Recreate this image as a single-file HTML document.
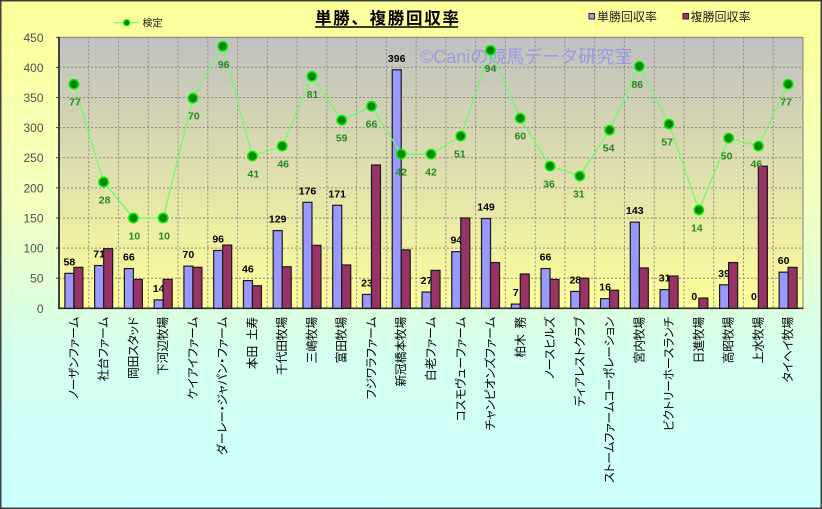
<!DOCTYPE html>
<html><head><meta charset="utf-8"><style>
html,body{margin:0;padding:0;}
body{width:822px;height:509px;overflow:hidden;}
svg{display:block;font-family:"Liberation Sans","Noto Sans CJK JP",sans-serif;}
.xl{font-size:11.8px;fill:#000;font-feature-settings:"palt";letter-spacing:-0.2px;}
.yl{font-size:12px;fill:#505050;}
.bl{font-size:10.5px;font-weight:bold;fill:#000;}
.gl{font-size:10.5px;font-weight:bold;fill:#228b22;}
</style></head><body>
<svg width="822" height="509" viewBox="0 0 822 509" xmlns="http://www.w3.org/2000/svg">
<defs>
<linearGradient id="bg" x1="0" y1="0" x2="0" y2="1">
<stop offset="0" stop-color="#ffff99"/>
<stop offset="0.4" stop-color="#f2ffbf"/>
<stop offset="0.7" stop-color="#d2ffee"/>
<stop offset="1" stop-color="#ccffff"/>
</linearGradient>
<linearGradient id="pg" x1="0" y1="0" x2="0" y2="1">
<stop offset="0" stop-color="#c0c0c0"/>
<stop offset="1" stop-color="#ffff99"/>
</linearGradient>
</defs>
<rect x="0.75" y="0.75" width="820.5" height="507.5" fill="url(#bg)" stroke="#404040" stroke-width="1.5"/>
<rect x="59" y="37.3" width="744" height="271" fill="url(#pg)" stroke="#808080" stroke-width="1"/>
<g stroke="#8a8a8a" stroke-width="1" stroke-dasharray="2,2" fill="none">
<line x1="59" x2="803" y1="278.19" y2="278.19"/>
<line x1="59" x2="803" y1="248.08" y2="248.08"/>
<line x1="59" x2="803" y1="217.97" y2="217.97"/>
<line x1="59" x2="803" y1="187.86" y2="187.86"/>
<line x1="59" x2="803" y1="157.75" y2="157.75"/>
<line x1="59" x2="803" y1="127.63" y2="127.63"/>
<line x1="59" x2="803" y1="97.52" y2="97.52"/>
<line x1="59" x2="803" y1="67.41" y2="67.41"/>
<line y1="37.3" y2="308.3" x1="88.76" x2="88.76"/>
<line y1="37.3" y2="308.3" x1="118.52" x2="118.52"/>
<line y1="37.3" y2="308.3" x1="148.28" x2="148.28"/>
<line y1="37.3" y2="308.3" x1="178.04" x2="178.04"/>
<line y1="37.3" y2="308.3" x1="207.80" x2="207.80"/>
<line y1="37.3" y2="308.3" x1="237.56" x2="237.56"/>
<line y1="37.3" y2="308.3" x1="267.32" x2="267.32"/>
<line y1="37.3" y2="308.3" x1="297.08" x2="297.08"/>
<line y1="37.3" y2="308.3" x1="326.84" x2="326.84"/>
<line y1="37.3" y2="308.3" x1="356.60" x2="356.60"/>
<line y1="37.3" y2="308.3" x1="386.36" x2="386.36"/>
<line y1="37.3" y2="308.3" x1="416.12" x2="416.12"/>
<line y1="37.3" y2="308.3" x1="445.88" x2="445.88"/>
<line y1="37.3" y2="308.3" x1="475.64" x2="475.64"/>
<line y1="37.3" y2="308.3" x1="505.40" x2="505.40"/>
<line y1="37.3" y2="308.3" x1="535.16" x2="535.16"/>
<line y1="37.3" y2="308.3" x1="564.92" x2="564.92"/>
<line y1="37.3" y2="308.3" x1="594.68" x2="594.68"/>
<line y1="37.3" y2="308.3" x1="624.44" x2="624.44"/>
<line y1="37.3" y2="308.3" x1="654.20" x2="654.20"/>
<line y1="37.3" y2="308.3" x1="683.96" x2="683.96"/>
<line y1="37.3" y2="308.3" x1="713.72" x2="713.72"/>
<line y1="37.3" y2="308.3" x1="743.48" x2="743.48"/>
<line y1="37.3" y2="308.3" x1="773.24" x2="773.24"/>
</g>
<text x="420" y="63" font-size="18" fill="#8f8ff5" fill-opacity="0.8">©Caniの競馬データ研究室</text>
<g stroke="#404040" stroke-width="1">
<line x1="56" x2="59" y1="37.3" y2="37.3"/>
<line x1="56" x2="59" y1="67.41" y2="67.41"/>
<line x1="56" x2="59" y1="97.52" y2="97.52"/>
<line x1="56" x2="59" y1="127.63" y2="127.63"/>
<line x1="56" x2="59" y1="157.75" y2="157.75"/>
<line x1="56" x2="59" y1="187.86" y2="187.86"/>
<line x1="56" x2="59" y1="217.97" y2="217.97"/>
<line x1="56" x2="59" y1="248.08" y2="248.08"/>
<line x1="56" x2="59" y1="278.19" y2="278.19"/>
</g>
<line x1="59" x2="59" y1="37" y2="309" stroke="#404040" stroke-width="2"/>
<line x1="58" x2="803.5" y1="308.3" y2="308.3" stroke="#303030" stroke-width="1.6"/>
<g class="yl" text-anchor="end" dominant-baseline="central">
<text x="43.5" y="37.8">450</text>
<text x="43.5" y="67.9">400</text>
<text x="43.5" y="98">350</text>
<text x="43.5" y="128.1">300</text>
<text x="43.5" y="158.2">250</text>
<text x="43.5" y="188.4">200</text>
<text x="43.5" y="218.5">150</text>
<text x="43.5" y="248.6">100</text>
<text x="43.5" y="278.7">50</text>
<text x="43.5" y="308.8">0</text>
</g>
<g fill="#9999ff" stroke="#1a1a1a" stroke-width="1.2">
<rect x="64.88" y="273.37" width="9" height="34.93"/>
<rect x="94.64" y="265.54" width="9" height="42.76"/>
<rect x="124.40" y="268.55" width="9" height="39.75"/>
<rect x="154.16" y="299.87" width="9" height="8.43"/>
<rect x="183.92" y="266.14" width="9" height="42.16"/>
<rect x="213.68" y="250.49" width="9" height="57.81"/>
<rect x="243.44" y="280.60" width="9" height="27.70"/>
<rect x="273.20" y="230.61" width="9" height="77.69"/>
<rect x="302.96" y="202.31" width="9" height="105.99"/>
<rect x="332.72" y="205.32" width="9" height="102.98"/>
<rect x="362.48" y="294.45" width="9" height="13.85"/>
<rect x="392.24" y="69.82" width="9" height="238.48"/>
<rect x="422.00" y="292.04" width="9" height="16.26"/>
<rect x="451.76" y="251.69" width="9" height="56.61"/>
<rect x="481.52" y="218.57" width="9" height="89.73"/>
<rect x="511.28" y="304.08" width="9" height="4.22"/>
<rect x="541.04" y="268.55" width="9" height="39.75"/>
<rect x="570.80" y="291.44" width="9" height="16.86"/>
<rect x="600.56" y="298.66" width="9" height="9.64"/>
<rect x="630.32" y="222.18" width="9" height="86.12"/>
<rect x="660.08" y="289.63" width="9" height="18.67"/>
<rect x="719.60" y="284.81" width="9" height="23.49"/>
<rect x="779.12" y="272.17" width="9" height="36.13"/>
</g>
<g class="bl" text-anchor="middle">
<text x="69.4" y="265.4">58</text>
<text x="99.1" y="257.5">71</text>
<text x="128.9" y="260.5">66</text>
<text x="158.7" y="291.9">14</text>
<text x="188.4" y="258.1">70</text>
<text x="218.2" y="242.5">96</text>
<text x="247.9" y="272.6">46</text>
<text x="277.7" y="222.6">129</text>
<text x="307.5" y="194.3">176</text>
<text x="337.2" y="197.3">171</text>
<text x="367" y="286.4">23</text>
<text x="396.7" y="61.8">396</text>
<text x="426.5" y="284">27</text>
<text x="456.3" y="243.7">94</text>
<text x="486" y="210.6">149</text>
<text x="515.8" y="296.1">7</text>
<text x="545.5" y="260.5">66</text>
<text x="575.3" y="283.4">28</text>
<text x="605.1" y="290.7">16</text>
<text x="634.8" y="214.2">143</text>
<text x="664.6" y="281.6">31</text>
<text x="694.3" y="300">0</text>
<text x="724.1" y="276.8">39</text>
<text x="753.9" y="300">0</text>
<text x="783.6" y="264.2">60</text>
</g>
<g fill="#993366" stroke="#1a1a1a" stroke-width="1.2">
<rect x="73.88" y="267.35" width="9" height="40.95"/>
<rect x="103.64" y="248.68" width="9" height="59.62"/>
<rect x="133.40" y="279.39" width="9" height="28.91"/>
<rect x="163.16" y="279.39" width="9" height="28.91"/>
<rect x="192.92" y="267.35" width="9" height="40.95"/>
<rect x="222.68" y="245.07" width="9" height="63.23"/>
<rect x="252.44" y="285.72" width="9" height="22.58"/>
<rect x="282.20" y="266.75" width="9" height="41.55"/>
<rect x="311.96" y="245.31" width="9" height="62.99"/>
<rect x="341.72" y="264.94" width="9" height="43.36"/>
<rect x="371.48" y="164.97" width="9" height="143.33"/>
<rect x="401.24" y="249.88" width="9" height="58.42"/>
<rect x="431.00" y="270.36" width="9" height="37.94"/>
<rect x="460.76" y="217.97" width="9" height="90.33"/>
<rect x="490.52" y="262.53" width="9" height="45.77"/>
<rect x="520.28" y="273.97" width="9" height="34.33"/>
<rect x="550.04" y="279.39" width="9" height="28.91"/>
<rect x="579.80" y="278.19" width="9" height="30.11"/>
<rect x="609.56" y="290.23" width="9" height="18.07"/>
<rect x="639.32" y="267.95" width="9" height="40.35"/>
<rect x="669.08" y="276.02" width="9" height="32.28"/>
<rect x="698.84" y="298.06" width="9" height="10.24"/>
<rect x="728.60" y="262.53" width="9" height="45.77"/>
<rect x="758.36" y="166.18" width="9" height="142.12"/>
<rect x="788.12" y="267.35" width="9" height="40.95"/>
</g>
<polyline fill="none" stroke="#66ff66" stroke-width="1.2" points="73.88,84.2 103.64,182 133.4,218 163.16,218 192.92,98.2 222.68,46.3 252.44,156.1 282.2,146.1 311.96,76.3 341.72,120.2 371.48,106.2 401.24,154.1 431,154.1 460.76,136.1 490.52,50.3 520.28,118.2 550.04,166.1 579.8,176 609.56,130.1 639.32,66.3 669.08,124.1 698.84,210 728.6,138.1 758.36,146.1 788.12,84.2"/>
<g fill="#008000" stroke="#00ee00" stroke-width="1.6">
<circle cx="73.88" cy="84.2" r="4.6"/>
<circle cx="103.64" cy="182" r="4.6"/>
<circle cx="133.4" cy="218" r="4.6"/>
<circle cx="163.16" cy="218" r="4.6"/>
<circle cx="192.92" cy="98.2" r="4.6"/>
<circle cx="222.68" cy="46.3" r="4.6"/>
<circle cx="252.44" cy="156.1" r="4.6"/>
<circle cx="282.2" cy="146.1" r="4.6"/>
<circle cx="311.96" cy="76.3" r="4.6"/>
<circle cx="341.72" cy="120.2" r="4.6"/>
<circle cx="371.48" cy="106.2" r="4.6"/>
<circle cx="401.24" cy="154.1" r="4.6"/>
<circle cx="431" cy="154.1" r="4.6"/>
<circle cx="460.76" cy="136.1" r="4.6"/>
<circle cx="490.52" cy="50.3" r="4.6"/>
<circle cx="520.28" cy="118.2" r="4.6"/>
<circle cx="550.04" cy="166.1" r="4.6"/>
<circle cx="579.8" cy="176" r="4.6"/>
<circle cx="609.56" cy="130.1" r="4.6"/>
<circle cx="639.32" cy="66.3" r="4.6"/>
<circle cx="669.08" cy="124.1" r="4.6"/>
<circle cx="698.84" cy="210" r="4.6"/>
<circle cx="728.6" cy="138.1" r="4.6"/>
<circle cx="758.36" cy="146.1" r="4.6"/>
<circle cx="788.12" cy="84.2" r="4.6"/>
</g>
<g class="gl" text-anchor="middle">
<text x="75" y="105.7">77</text>
<text x="104.6" y="203.5">28</text>
<text x="134.4" y="239.5">10</text>
<text x="164.2" y="239.5">10</text>
<text x="193.9" y="119.7">70</text>
<text x="223.7" y="67.8">96</text>
<text x="253.4" y="177.6">41</text>
<text x="283.2" y="167.6">46</text>
<text x="312.5" y="97.8">81</text>
<text x="341.7" y="141.7">59</text>
<text x="371.5" y="127.7">66</text>
<text x="401.2" y="175.6">42</text>
<text x="431" y="175.6">42</text>
<text x="459.8" y="157.6">51</text>
<text x="490.5" y="71.8">94</text>
<text x="520.3" y="139.7">60</text>
<text x="549" y="187.6">36</text>
<text x="578.8" y="197.5">31</text>
<text x="608.6" y="151.6">54</text>
<text x="637.3" y="87.8">86</text>
<text x="667.1" y="145.6">57</text>
<text x="696.8" y="231.5">14</text>
<text x="726.6" y="159.6">50</text>
<text x="756.4" y="167.6">46</text>
<text x="786.1" y="105.7">77</text>
</g>
<g class="xl" text-anchor="end" dominant-baseline="central">
<text transform="translate(73.88,317) rotate(-90)">ノーザンファーム</text>
<text transform="translate(103.64,317) rotate(-90)">社台ファーム</text>
<text transform="translate(133.40,317) rotate(-90)">岡田スタッド</text>
<text transform="translate(163.16,317) rotate(-90)">下河辺牧場</text>
<text transform="translate(192.92,317) rotate(-90)">ケイアイファーム</text>
<text transform="translate(222.68,317) rotate(-90)">ダーレー・ジャパン・ファーム</text>
<text transform="translate(252.44,317) rotate(-90)">本田&#x2002;土寿</text>
<text transform="translate(282.20,317) rotate(-90)">千代田牧場</text>
<text transform="translate(311.96,317) rotate(-90)">三嶋牧場</text>
<text transform="translate(341.72,317) rotate(-90)">富田牧場</text>
<text transform="translate(371.48,317) rotate(-90)">フジワラファーム</text>
<text transform="translate(401.24,317) rotate(-90)">新冠橋本牧場</text>
<text transform="translate(431.00,317) rotate(-90)">白老ファーム</text>
<text transform="translate(460.76,317) rotate(-90)">コスモヴューファーム</text>
<text transform="translate(490.52,317) rotate(-90)">チャンピオンズファーム</text>
<text transform="translate(520.28,317) rotate(-90)">柏木&#x2002;務</text>
<text transform="translate(550.04,317) rotate(-90)">ノースヒルズ</text>
<text transform="translate(579.80,317) rotate(-90)">ディアレストクラブ</text>
<text transform="translate(609.56,317) rotate(-90)">ストームファームコーポレーション</text>
<text transform="translate(639.32,317) rotate(-90)">宮内牧場</text>
<text transform="translate(669.08,317) rotate(-90)">ビクトリーホースランチ</text>
<text transform="translate(698.84,317) rotate(-90)">日進牧場</text>
<text transform="translate(728.60,317) rotate(-90)">高昭牧場</text>
<text transform="translate(758.36,317) rotate(-90)">上水牧場</text>
<text transform="translate(788.12,317) rotate(-90)">タイヘイ牧場</text>
</g>
<text x="315" y="24" font-size="16.5" font-weight="bold" fill="#000" letter-spacing="1.7">単勝、複勝回収率</text>
<line x1="315" x2="458" y1="27" y2="27" stroke="#000" stroke-width="1.4"/>
<line x1="114" x2="139" y1="22.7" y2="22.7" stroke="#66ff66" stroke-width="1.2"/>
<circle cx="126.7" cy="22.7" r="3" fill="#008000" stroke="#00ee00" stroke-width="1.2"/>
<text x="142.5" y="26.3" font-size="10" fill="#222">検定</text>
<rect x="589" y="13.5" width="5.5" height="5.5" fill="#9999ff" stroke="#222" stroke-width="1"/>
<text x="597" y="20.8" font-size="12" fill="#222">単勝回収率</text>
<rect x="683" y="13.5" width="5.5" height="5.5" fill="#993366" stroke="#222" stroke-width="1"/>
<text x="690.5" y="20.8" font-size="12" fill="#222">複勝回収率</text>
</svg>
</body></html>
